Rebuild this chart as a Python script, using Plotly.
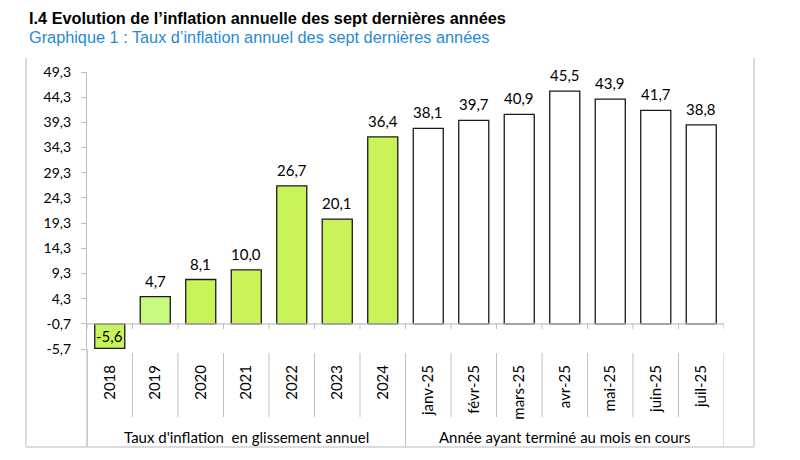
import plotly.graph_objects as go

categories = ["2018", "2019", "2020", "2021", "2022", "2023", "2024",
              "janv-25", "févr-25", "mars-25", "avr-25", "mai-25", "juin-25", "juil-25"]
values = [-5.6, 4.7, 8.1, 10.0, 26.7, 20.1, 36.4,
          38.1, 39.7, 40.9, 45.5, 43.9, 41.7, 38.8]
y_ticks = [-5.7, -0.7, 4.3, 9.3, 14.3, 19.3, 24.3, 29.3, 34.3, 39.3, 44.3, 49.3]
groups = ["Taux d'inflation  en glissement annuel", "Année ayant terminé au mois en cours"]
group_sizes = [7, 7]
axis_cross = -0.7

GREEN = "#C8F45A"
GREEN_LIGHT = "#C8FA80"
fills = []
for i, c in enumerate(categories):
    if i < 7:
        fills.append(GREEN_LIGHT if c == "2019" else GREEN)
    else:
        fills.append("#FFFFFF")

def fmt(v):
    return f"{v:.1f}".replace(".", ",")

FONT = "Lato, Carlito, 'Liberation Sans', sans-serif"
GRAY = "#BFBFBF"
n = len(categories)
xs = list(range(n))

fig = go.Figure()
fig.add_trace(go.Bar(
    x=xs,
    y=[v - axis_cross for v in values],
    base=axis_cross,
    marker=dict(color=fills, line=dict(color="#1A1A1A", width=1.3)),
    width=0.66,
    hoverinfo="skip",
))

PX = 277.0
W = 637.0

annotations = []
for x, v in zip(xs, values):
    if v >= 0:
        annotations.append(dict(x=x, y=v, xref="x", yref="y", text=fmt(v),
                                showarrow=False, yanchor="bottom", yshift=5,
                                font=dict(family=FONT, size=15, color="#000")))
    else:
        annotations.append(dict(x=x, y=(v + axis_cross) / 2, xref="x", yref="y", text=fmt(v),
                                showarrow=False, yanchor="middle",
                                font=dict(family=FONT, size=15, color="#000")))

shapes = []
shapes.append(dict(type="line", xref="x", yref="y", x0=-0.5, x1=n - 0.5,
                   y0=axis_cross, y1=axis_cross, line=dict(color=GRAY, width=1.2)))
bounds = [0]
for s in group_sizes:
    bounds.append(bounds[-1] + s)
for k in range(n + 1):
    xk = k - 0.5
    shapes.append(dict(type="line", xref="x", yref="paper", x0=xk, x1=xk,
                       y0=(349 - 324) / PX, y1=(349 - 329) / PX,
                       line=dict(color=GRAY, width=1)))
    y1 = -(447 - 349) / PX if k in bounds else -(417 - 349) / PX
    y0 = 0 if k == 0 else -(353 - 349) / PX
    shapes.append(dict(type="line", xref="x", yref="paper", x0=xk, x1=xk,
                       y0=y0, y1=y1, line=dict(color=GRAY, width=1)))
for g, a, b in zip(groups, bounds[:-1], bounds[1:]):
    annotations.append(dict(x=(a + b - 1) / 2, y=-(437 - 349) / PX, xref="x", yref="paper",
                            text=g, showarrow=False, yanchor="middle",
                            font=dict(family=FONT, size=15, color="#000")))
fx0 = (26 - 87) / W
fx1 = (754 - 87) / W
fy0 = -(447 - 349) / PX
fy1 = (349 - 58) / PX
for (x0, x1, y0, y1) in [(fx0, fx0, fy0, fy1), (fx1, fx1, fy0, fy1), (fx0, fx1, fy0, fy0)]:
    shapes.append(dict(type="line", xref="paper", yref="paper", x0=x0, x1=x1, y0=y0, y1=y1,
                       line=dict(color="#D0D0D0", width=1.5)))

annotations.append(dict(x=(27 - 87) / W, y=(349 - 18) / PX, xref="paper", yref="paper",
                        xanchor="left", yanchor="middle", showarrow=False,
                        text="<b>I.4 Evolution de l’inflation annuelle des sept dernières années</b>",
                        font=dict(family="'Liberation Sans', Arial, sans-serif", size=16.3, color="#000")))
annotations.append(dict(x=(27 - 87) / W, y=(349 - 37) / PX, xref="paper", yref="paper",
                        xanchor="left", yanchor="middle", showarrow=False,
                        text="Graphique 1 : Taux d’inflation annuel des sept dernières années",
                        font=dict(family="'Liberation Sans', Arial, sans-serif", size=16.3, color="#1F8AD8")))

fig.update_layout(
    width=800, height=460,
    margin=dict(l=79, r=84, t=64, b=119, autoexpand=False),
    paper_bgcolor="white", plot_bgcolor="white",
    showlegend=False,
    annotations=annotations,
    shapes=shapes,
    font=dict(family=FONT, size=14, color="#000"),
)

fig.update_xaxes(
    range=[-0.5, n - 0.5], tickvals=xs, ticktext=categories,
    tickangle=-90, showline=False, showgrid=False, zeroline=False,
    ticks="", ticklabelstandoff=12, automargin=False,
    tickfont=dict(family=FONT, size=15, color="#000"),
)
fig.update_yaxes(
    range=[y_ticks[0], y_ticks[-1]], tickvals=y_ticks, ticktext=[fmt(t) for t in y_ticks],
    showgrid=False, zeroline=False, showline=True, linecolor=GRAY, linewidth=1.2,
    ticks="outside", ticklen=5, tickcolor=GRAY, ticklabelstandoff=7, automargin=False,
    tickfont=dict(family=FONT, size=14, color="#000"),
)
fig.add_shape(type="line", xref="paper", yref="paper", x0=0, x1=0, y0=0, y1=fy0,
              line=dict(color=GRAY, width=1.2))

fig.write_html("out.html")
